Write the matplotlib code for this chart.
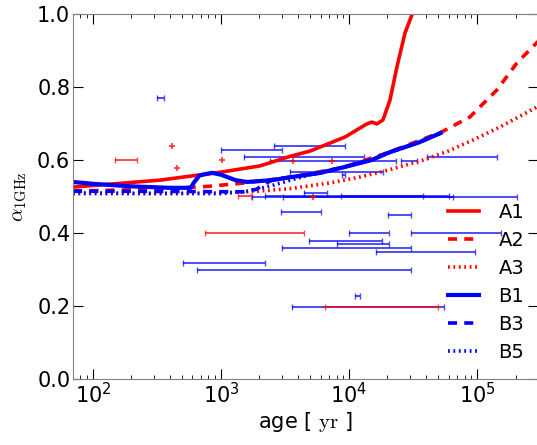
import numpy as np
import matplotlib
matplotlib.use("Agg")
import matplotlib.pyplot as plt

plt.rcParams['mathtext.fontset'] = 'cm'
plt.rcParams['font.family'] = ['DejaVu Sans']

# ---- model curves (age [yr], alpha) ----
A1_age = [70, 334, 1000, 2018, 3459, 5000, 9306, 13800, 15100, 16550, 18430, 20900, 23700, 27400, 31000, 33000]
A1_alp = [0.526, 0.545, 0.567, 0.584, 0.610, 0.625, 0.663, 0.699, 0.704, 0.699, 0.710, 0.764, 0.855, 0.948, 0.997, 1.05]

A2_age = [70, 300, 800, 1500, 3500, 9000, 20000, 53000, 88000, 143000, 205000, 300000]
A2_alp = [0.515, 0.52, 0.528, 0.537, 0.553, 0.58, 0.62, 0.677, 0.718, 0.792, 0.866, 0.925]

A3_age = [70, 300, 1000, 2000, 3500, 7000, 12000, 20000, 38000, 60000, 93000, 150000, 300000]
A3_alp = [0.508, 0.508, 0.51, 0.515, 0.522, 0.537, 0.553, 0.572, 0.60, 0.625, 0.655, 0.69, 0.747]

B1_age = [70, 100, 200, 400, 580, 620, 680, 850, 1000, 1300, 1600, 2500, 3500, 6000, 9000, 15000, 21000, 35000, 52000]
B1_alp = [0.540, 0.535, 0.528, 0.524, 0.524, 0.54, 0.558, 0.565, 0.56, 0.545, 0.54, 0.545, 0.553, 0.565, 0.58, 0.60, 0.622, 0.648, 0.674]

B3_age = [70, 500, 1500, 1900, 2200, 2600, 3500, 6000, 9000, 15000, 21000, 35000, 52000]
B3_alp = [0.515, 0.514, 0.513, 0.52, 0.535, 0.548, 0.553, 0.565, 0.58, 0.60, 0.622, 0.648, 0.674]

B5_age = [70, 1000, 1600, 2500, 3500, 5000, 9000, 15000, 21000, 35000, 52000]
B5_alp = [0.510, 0.508, 0.515, 0.53, 0.545, 0.56, 0.58, 0.60, 0.622, 0.648, 0.674]

# ---- observed remnants: horizontal age ranges ----
blue_alpha = [0.77, 0.638, 0.627, 0.608, 0.608, 0.597, 0.597, 0.567, 0.559, 0.510,
              0.500, 0.501, 0.499, 0.502, 0.458, 0.449, 0.40, 0.40, 0.378, 0.370,
              0.359, 0.348, 0.318, 0.299, 0.227, 0.197]
blue_lo = [316, 2595, 1000, 1514, 40680, 2415, 25460, 3459, 8817, 4449,
           1746, 2206, 3051, 8660, 2945, 20180, 10000, 30510, 4870, 8058,
           3000, 16260, 505, 649, 11140, 3589]
blue_hi = [359, 9306, 3000, 13100, 143300, 23280, 33980, 18430, 9306, 6730,
           205400, 60400, 64940, 37880, 6042, 30510, 20540, 154000, 18120, 20540,
           30510, 96460, 2206, 30510, 12190, 55240]

red_alpha = [0.60, 0.40, 0.501, 0.197]
red_lo = [148, 750, 1359, 6494]
red_hi = [221, 4449, 1716, 49580]

redpt_age = [414, 453, 1018, 3650, 7360, 5232]
redpt_alpha = [0.638, 0.578, 0.60, 0.597, 0.597, 0.50]

fig = plt.figure(figsize=(5.37, 4.45), dpi=100)
ax = fig.add_axes([0.136, 0.148, 0.866, 0.8205])

def bars(lo, hi, al, color):
    lo = np.array(lo, float); hi = np.array(hi, float)
    c = np.sqrt(lo * hi)
    ax.errorbar(c, al, xerr=[c - lo, hi - c], fmt='none', ecolor=color,
                elinewidth=1.4, capsize=2, capthick=1.0, alpha=0.7)

bars(blue_lo, blue_hi, blue_alpha, 'blue')
bars(red_lo, red_hi, red_alpha, 'red')
ax.plot(redpt_age, redpt_alpha, '+', color='red', ms=4, mew=1.2, alpha=0.8)

lw = 2.6
ax.plot(A1_age, A1_alp, color='red', lw=lw, ls='-', label='A1')
ax.plot(A2_age, A2_alp, color='red', lw=lw, ls=(0, (2.5, 2)), label='A2')
ax.plot(A3_age, A3_alp, color='red', lw=lw, ls=(0, (0.5, 1)), label='A3')
ax.plot(B1_age, B1_alp, color='blue', lw=3.0, ls='-', label='B1')
ax.plot(B3_age, B3_alp, color='blue', lw=lw, ls=(0, (2.5, 2)), label='B3')
ax.plot(B5_age, B5_alp, color='blue', lw=lw, ls=(0, (0.5, 1)), label='B5')

ax.set_xscale('log')
ax.set_xlim(70, 3e5)
ax.set_ylim(0.0, 1.0)
ax.set_yticks([0.0, 0.2, 0.4, 0.6, 0.8, 1.0])
ax.set_yticklabels(['0.0', '0.2', '0.4', '0.6', '0.8', '1.0'])

for s in ax.spines.values():
    s.set_color('#808080')
ax.tick_params(which='both', direction='in', top=True, right=True, labelsize=15, pad=2)
ax.tick_params(which='major', length=7)
ax.tick_params(which='minor', length=3)

ax.set_xlabel(r'age [ $\mathrm{yr}$ ]', fontsize=15, labelpad=2)
ax.set_ylabel(r'$\alpha_{\mathrm{1GHz}}$', fontsize=15, labelpad=6)

ax.legend(loc='lower right', frameon=False, fontsize=14, handlelength=1.6,
          handletextpad=1.0, labelspacing=0.46, bbox_to_anchor=(1.008, 0.0))

fig.savefig('out.png', dpi=100)
